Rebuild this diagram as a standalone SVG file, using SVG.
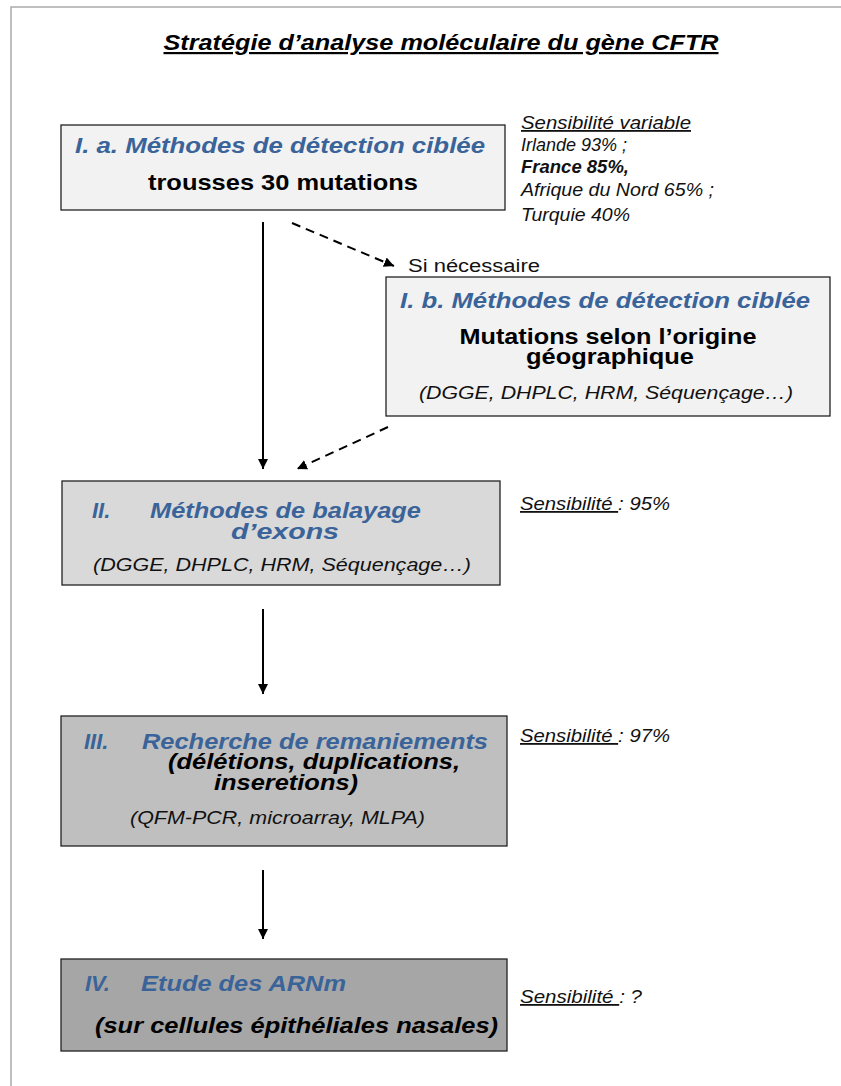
<svg xmlns="http://www.w3.org/2000/svg" width="841" height="1086" viewBox="0 0 841 1086">
<defs>
<style>
text{font-family:"Liberation Sans",Arial,sans-serif}
.box{stroke:#222;stroke-width:1.3}
.blue{fill:#3a6499;font-weight:bold;font-style:italic;font-size:22px}
.blk{fill:#000;font-weight:bold;font-size:22px}
.it{fill:#111;font-style:italic;font-size:18px}
.side{fill:#111;font-style:italic;font-size:18px}
.con{stroke:#000;stroke-width:2;fill:none}
.dash{stroke-dasharray:9 6}
</style>
<marker id="ah" viewBox="0 0 10 10" refX="10" refY="5" markerWidth="10" markerHeight="10" markerUnits="userSpaceOnUse" orient="auto">
<path d="M0,0 L10,5 L0,10 z" fill="#000"/>
</marker>
</defs>
<rect width="841" height="1086" fill="#fff"/>
<path d="M11,1086 V7 H841" fill="none" stroke="#aaa" stroke-width="1.5"/>

<text x="441" y="50" text-anchor="middle" font-size="22" font-weight="bold" font-style="italic" text-decoration="underline" textLength="555" lengthAdjust="spacingAndGlyphs">Stratégie d’analyse moléculaire du gène CFTR</text>

<g id="node-Ia">
<rect class="box" x="61" y="125" width="444" height="85" fill="#f2f2f2"/>
<text class="blue" x="75" y="153" textLength="410" lengthAdjust="spacingAndGlyphs">I. a.  Méthodes de détection ciblée</text>
<text class="blk" x="148" y="190" textLength="270" lengthAdjust="spacingAndGlyphs">trousses 30 mutations</text>
</g>

<g id="note-Ia">
<text class="side" x="521" y="129" text-decoration="underline" textLength="170" lengthAdjust="spacingAndGlyphs">Sensibilité  variable</text>
<text class="side" x="521" y="151" font-size="17">Irlande 93% ;</text>
<text class="side" x="521" y="173" font-weight="bold" textLength="108" lengthAdjust="spacingAndGlyphs">France 85%,</text>
<text class="side" x="521" y="196" textLength="193" lengthAdjust="spacingAndGlyphs">Afrique du Nord 65% ;</text>
<text class="side" x="521" y="221" textLength="109" lengthAdjust="spacingAndGlyphs">Turquie 40%</text>
</g>

<g id="node-Ib">
<rect class="box" x="386" y="277" width="444" height="139" fill="#f2f2f2"/>
<text class="blue" x="400" y="308" textLength="410" lengthAdjust="spacingAndGlyphs">I. b.  Méthodes de détection ciblée</text>
<text class="blk" x="608" y="344" text-anchor="middle" textLength="297" lengthAdjust="spacingAndGlyphs">Mutations selon l’origine</text>
<text class="blk" x="610" y="364" text-anchor="middle" textLength="168" lengthAdjust="spacingAndGlyphs">géographique</text>
<text class="it" x="606" y="399" text-anchor="middle" textLength="374" lengthAdjust="spacingAndGlyphs">(DGGE, DHPLC, HRM, Séquençage…)</text>
</g>

<g id="node-II">
<rect class="box" x="62" y="481" width="438" height="104" fill="#d9d9d9"/>
<text class="blue" x="92" y="518">II.</text>
<text class="blue" x="150" y="518" textLength="271" lengthAdjust="spacingAndGlyphs">Méthodes de balayage</text>
<text class="blue" x="285" y="539" text-anchor="middle" textLength="108" lengthAdjust="spacingAndGlyphs">d’exons</text>
<text class="it" x="93" y="571" textLength="378" lengthAdjust="spacingAndGlyphs">(DGGE, DHPLC, HRM, Séquençage…)</text>
</g>
<text class="side" x="520" y="510" textLength="150" lengthAdjust="spacingAndGlyphs"><tspan text-decoration="underline">Sensibilité  </tspan>: 95%</text>

<g id="node-III">
<rect class="box" x="61" y="716" width="446" height="130" fill="#bfbfbf"/>
<text class="blue" x="84" y="749">III.</text>
<text class="blue" x="142" y="749" textLength="346" lengthAdjust="spacingAndGlyphs">Recherche de remaniements</text>
<text class="blk" x="168" y="769" font-style="italic" textLength="292" lengthAdjust="spacingAndGlyphs">(délétions, duplications,</text>
<text class="blk" x="214" y="790" font-style="italic" textLength="144" lengthAdjust="spacingAndGlyphs">inseretions)</text>
<text class="it" x="130" y="824" textLength="295" lengthAdjust="spacingAndGlyphs">(QFM-PCR, microarray, MLPA)</text>
</g>
<text class="side" x="520" y="742" textLength="150" lengthAdjust="spacingAndGlyphs"><tspan text-decoration="underline">Sensibilité  </tspan>: 97%</text>

<g id="node-IV">
<rect class="box" x="61" y="959" width="446" height="92" fill="#a6a6a6"/>
<text class="blue" x="85" y="991">IV.</text>
<text class="blue" x="141" y="991" textLength="205" lengthAdjust="spacingAndGlyphs">Etude des ARNm</text>
<text class="blk" x="95" y="1033" font-style="italic" textLength="403" lengthAdjust="spacingAndGlyphs">(sur cellules épithéliales nasales)</text>
</g>
<text class="side" x="520" y="1003" textLength="122" lengthAdjust="spacingAndGlyphs"><tspan text-decoration="underline">Sensibilité  </tspan>: ?</text>

<g id="connectors">
<line class="con" x1="263" y1="222" x2="263" y2="469" marker-end="url(#ah)"/>
<line class="con dash" x1="292" y1="223" x2="394" y2="266" marker-end="url(#ah)"/>
<line class="con dash" x1="388" y1="427" x2="297" y2="469" marker-end="url(#ah)"/>
<line class="con" x1="263" y1="609" x2="263" y2="694" marker-end="url(#ah)"/>
<line class="con" x1="263" y1="870" x2="263" y2="939" marker-end="url(#ah)"/>
<text x="408" y="272" font-size="18" fill="#111" textLength="132" lengthAdjust="spacingAndGlyphs">Si nécessaire</text>
</g>
</svg>
